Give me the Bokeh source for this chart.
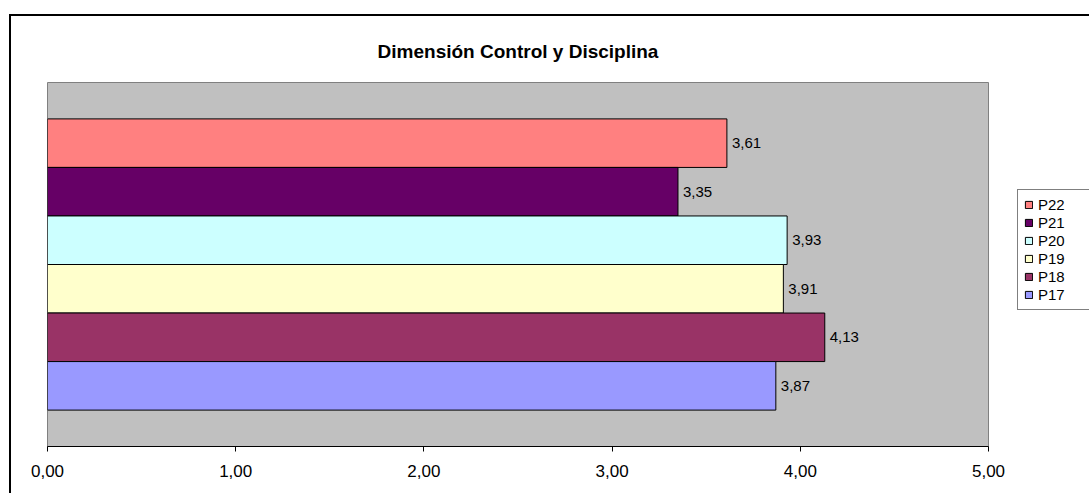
from bokeh.plotting import figure
from bokeh.layouts import row
from bokeh.models import ColumnDataSource, LabelSet, Legend, LegendItem, FixedTicker, Range1d
from bokeh.core.properties import value
from bokeh.embed import file_html
from bokeh.resources import INLINE

# ---- data (legend order, top to bottom) ----
series = ["P22", "P21", "P20", "P19", "P18", "P17"]
values = [3.61, 3.35, 3.93, 3.91, 4.13, 3.87]
value_labels = ["3,61", "3,35", "3,93", "3,91", "4,13", "3,87"]
colors = ["#FF8080", "#660066", "#CCFFFF", "#FFFFCC", "#993366", "#9999FF"]
x_ticks = [0, 1, 2, 3, 4, 5]
x_tick_labels = ["0,00", "1,00", "2,00", "3,00", "4,00", "5,00"]
title_text = "Dimensión Control y Disciplina"

FONT = "Liberation Sans"
n = len(series)
gap = 0.75
ypos = [gap + (n - 1 - i) + 0.5 for i in range(n)]

src = ColumnDataSource(dict(series=series, value=values, label=value_labels,
                            color=colors, y=ypos))

H = 477
P_W = 1002
Q_W = 1078 - P_W

p = figure(width=P_W, height=H, output_backend="svg", toolbar_location=None,
           x_range=Range1d(0, 5), y_range=Range1d(0, n + 2 * gap),
           min_border_left=36, min_border_right=25, min_border_top=66,
           min_border_bottom=47)

p.background_fill_color = "#C0C0C0"
p.border_fill_color = "white"
p.outline_line_color = "#808080"
p.outline_line_width = 1
p.xgrid.visible = False
p.ygrid.visible = False
p.yaxis.visible = False

p.title.text = title_text
p.title.align = "center"
p.title.text_font = FONT
p.title.text_font_size = "19px"
p.title.text_font_style = "bold"
p.title.text_color = "black"
p.title.standoff = 42

ax = p.xaxis[0]
ax.ticker = FixedTicker(ticks=x_ticks)
ax.major_label_overrides = {t: l for t, l in zip(x_ticks, x_tick_labels)}
ax.axis_line_color = "black"
ax.major_tick_line_color = "black"
ax.major_tick_out = 5
ax.major_tick_in = 0
ax.minor_tick_line_color = None
ax.major_label_text_font = FONT
ax.major_label_text_font_size = "17px"
ax.major_label_text_color = "black"
ax.major_label_standoff = 13

p.hbar(y="y", left=0, right="value", height=1.0, source=src,
       fill_color="color", line_color="black", line_width=1)

labels = LabelSet(x="value", y="y", text="label", source=src, x_offset=5,
                  text_baseline="middle", text_align="left",
                  text_font=value(FONT), text_font_size="15px", text_color="black")
p.add_layout(labels)

# ---- legend area (separate canvas so the legend is not clipped) ----
q = figure(width=Q_W, height=H, output_backend="svg", toolbar_location=None,
           x_range=Range1d(-10, -9), y_range=Range1d(-10, -9),
           x_axis_location=None, y_axis_location=None,
           min_border_left=0, min_border_right=0, min_border_top=0,
           min_border_bottom=0)
q.outline_line_color = None
q.background_fill_color = "white"
q.border_fill_color = "white"
q.xgrid.visible = False
q.ygrid.visible = False
rq = q.hbar(y="y", left=0, right="value", height=1.0, source=src,
            fill_color="color", line_color="black", line_width=1)

items = [LegendItem(label=s, renderers=[rq], index=i) for i, s in enumerate(series)]
legend = Legend(items=items, location=(4, 136), orientation="vertical",
                glyph_width=9, glyph_height=9, label_height=15, spacing=1,
                label_standoff=5, label_width=60, padding=6, margin=0,
                label_text_font=FONT, label_text_font_size="15px",
                label_text_color="black",
                border_line_color="black", border_line_width=1.3,
                background_fill_color="white", background_fill_alpha=1.0)
q.add_layout(legend)

layout = row(p, q)
layout.spacing = 0
layout.margin = (14, 0, 0, 9)
layout.styles = {"border-left": "2px solid black", "border-top": "2px solid black"}

open("out.html", "w").write(file_html(layout, INLINE))
